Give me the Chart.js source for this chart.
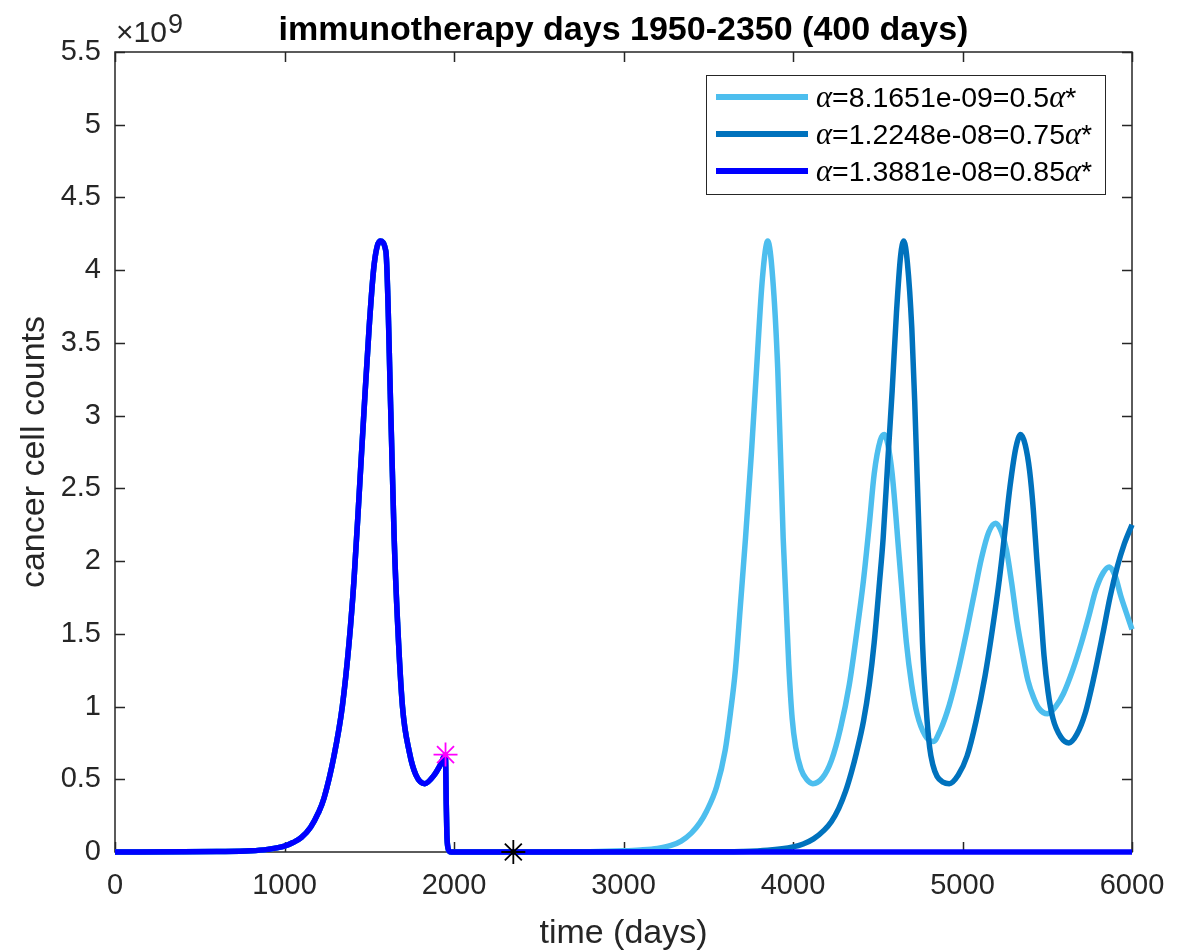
<!DOCTYPE html>
<html>
<head>
<meta charset="utf-8">
<title>immunotherapy days 1950-2350</title>
<script src="https://cdn.jsdelivr.net/npm/chart.js@4.4.0/dist/chart.umd.min.js"></script>
<style>
    html, body { margin: 0; padding: 0; background: #fff; }
    #wrap { width: 1183px; height: 950px; position: relative; }
</style>
</head>
<body>
<div id="wrap"><canvas id="cancerChart"></canvas></div>
<script>
// cancer cells are in units of 1e9 (axis shows x10^9)
// shared history before / during therapy start
const commonDays  = [0, 400, 600, 800, 900, 1000, 1050, 1100, 1154, 1200, 1233, 1292, 1341, 1381, 1410, 1440, 1469, 1499, 1529, 1564, 1598, 1627, 1647, 1667, 1696, 1736, 1775, 1828, 1884, 1920, 1948, 1951, 1954, 1958, 1964, 1972, 1985];
const commonCells = [0, 0.001, 0.003, 0.008, 0.018, 0.04, 0.065, 0.1, 0.17, 0.27, 0.37, 0.66, 1.0, 1.44, 1.87, 2.45, 3.03, 3.6, 4.04, 4.2, 4.13, 3.03, 2.16, 1.58, 1.0, 0.69, 0.53, 0.47, 0.53, 0.6, 0.665, 0.6, 0.35, 0.12, 0.03, 0.005, 0];

// alpha = 0.5 alpha*
const lowDays  = [2400, 2800, 3000, 3100, 3200, 3280, 3340, 3400, 3450, 3490, 3550, 3600, 3630, 3660, 3690, 3720, 3755, 3785, 3820, 3851, 3880, 3910, 3942, 3975, 3995, 4016, 4047, 4080, 4117, 4174, 4227, 4280, 4332, 4375, 4416, 4450, 4479, 4515, 4538, 4560, 4585, 4627, 4669, 4700, 4732, 4780, 4827, 4870, 4922, 4975, 5027, 5070, 5112, 5155, 5196, 5230, 5259, 5290, 5322, 5355, 5386, 5420, 5449, 5502, 5550, 5596, 5650, 5702, 5745, 5786, 5830, 5866, 5900, 5934, 5965, 6000];
const lowCells = [0, 0.002, 0.008, 0.014, 0.025, 0.045, 0.075, 0.13, 0.2, 0.28, 0.45, 0.7, 0.95, 1.25, 1.7, 2.16, 2.75, 3.32, 3.95, 4.2, 3.95, 3.32, 2.16, 1.29, 0.92, 0.72, 0.57, 0.5, 0.47, 0.51, 0.63, 0.85, 1.15, 1.5, 1.87, 2.25, 2.6, 2.83, 2.87, 2.8, 2.6, 2.02, 1.44, 1.15, 0.95, 0.8, 0.76, 0.84, 1.01, 1.25, 1.53, 1.78, 2.02, 2.2, 2.26, 2.2, 2.08, 1.85, 1.58, 1.36, 1.18, 1.06, 0.99, 0.95, 1.0, 1.09, 1.25, 1.44, 1.62, 1.8, 1.92, 1.96, 1.9, 1.76, 1.65, 1.53];

// alpha = 0.75 alpha*
const midDays  = [2400, 3400, 3700, 3850, 4000, 4060, 4121, 4184, 4227, 4270, 4311, 4345, 4374, 4416, 4450, 4479, 4510, 4532, 4560, 4585, 4610, 4635, 4654, 4675, 4701, 4718, 4732, 4750, 4764, 4785, 4806, 4825, 4850, 4885, 4922, 4975, 5027, 5080, 5133, 5175, 5217, 5250, 5280, 5315, 5343, 5370, 5396, 5418, 5438, 5460, 5481, 5505, 5533, 5580, 5628, 5675, 5723, 5775, 5828, 5870, 5913, 5955, 6000];
const midCells = [0, 0.001, 0.004, 0.012, 0.035, 0.055, 0.09, 0.15, 0.21, 0.3, 0.42, 0.55, 0.68, 0.9, 1.15, 1.44, 1.85, 2.16, 2.7, 3.17, 3.7, 4.1, 4.2, 4.05, 3.6, 3.1, 2.6, 1.95, 1.44, 1.0, 0.72, 0.6, 0.52, 0.48, 0.47, 0.53, 0.66, 0.9, 1.21, 1.52, 1.87, 2.2, 2.51, 2.78, 2.87, 2.8, 2.62, 2.35, 2.02, 1.68, 1.35, 1.1, 0.92, 0.79, 0.75, 0.81, 0.95, 1.2, 1.5, 1.75, 1.96, 2.12, 2.25];

// alpha = 0.85 alpha* (cured)
const highDays  = [2400, 6000];
const highCells = [0, 0];

// therapy start / end markers
const markerDays  = [1950, 2350];
const markerCells = [0.67, 0];

const legendLabels = ['α=8.1651e-09=0.5α*', 'α=1.2248e-08=0.75α*', 'α=1.3881e-08=0.85α*'];
const lineColors = ['#4DBEEE', '#0072BD', '#0000FF'];

const xTickValues = [0, 1000, 2000, 3000, 4000, 5000, 6000];
const yTickValues = [0, 0.5, 1, 1.5, 2, 2.5, 3, 3.5, 4, 4.5, 5, 5.5];
const yTickLabels = ['0', '0.5', '1', '1.5', '2', '2.5', '3', '3.5', '4', '4.5', '5', '5.5'];

const titleText = 'immunotherapy days 1950-2350 (400 days)';
const FONT = "'Liberation Sans', Arial, Helvetica, sans-serif";
const AXIS = '#262626';

function toPoints(days, cells) {
    return days.map((d, i) => ({ x: d, y: cells[i] }));
}

function series(days, cells) {
    return toPoints(commonDays.concat(days), commonCells.concat(cells));
}

// draws text where α is set in italic serif
function drawRich(ctx, text, x, y, size) {
    const parts = text.split(/(α)/).filter(p => p.length);
    parts.forEach(p => {
        ctx.font = p === 'α' ? `italic ${size + 2}px 'Liberation Serif', 'DejaVu Serif', serif` : `${size}px ${FONT}`;
        ctx.fillText(p, x, y);
        x += ctx.measureText(p).width;
    });
}

const decor = {
    id: 'decor',
    beforeDatasetsDraw(chart) {
        const { ctx, chartArea: a, scales: { x, y } } = chart;
        ctx.save();
        ctx.strokeStyle = AXIS;
        ctx.lineWidth = 1.5;
        ctx.strokeRect(a.left, a.top, a.right - a.left, a.bottom - a.top);
        ctx.beginPath();
        xTickValues.forEach(v => {
            const px = Math.round(x.getPixelForValue(v)) + 0.5;
            ctx.moveTo(px, a.bottom); ctx.lineTo(px, a.bottom - 10);
            ctx.moveTo(px, a.top); ctx.lineTo(px, a.top + 10);
        });
        yTickValues.forEach(v => {
            const py = Math.round(y.getPixelForValue(v)) + 0.5;
            ctx.moveTo(a.left, py); ctx.lineTo(a.left + 10, py);
            ctx.moveTo(a.right, py); ctx.lineTo(a.right - 10, py);
        });
        ctx.stroke();
        ctx.restore();
    },
    afterDraw(chart) {
        const { ctx, chartArea: a } = chart;
        const cx = (a.left + a.right) / 2;
        ctx.save();
        ctx.fillStyle = '#000';
        ctx.textAlign = 'center';
        ctx.textBaseline = 'alphabetic';
        ctx.font = `bold 34px ${FONT}`;
        ctx.fillText(titleText, cx, a.top - 12);

        // exponent label
        ctx.fillStyle = AXIS;
        ctx.textAlign = 'left';
        ctx.font = `30px ${FONT}`;
        ctx.fillText('×10', a.left + 1, a.top - 10);
        const w = ctx.measureText('×10').width;
        ctx.font = `27px ${FONT}`;
        ctx.fillText('9', a.left + 2 + w, a.top - 19);

        // axis titles
        ctx.textAlign = 'center';
        ctx.font = `34px ${FONT}`;
        ctx.fillText('time (days)', cx, a.bottom + 91);
        ctx.save();
        ctx.translate(44, (a.top + a.bottom) / 2);
        ctx.rotate(-Math.PI / 2);
        ctx.fillText('cancer cell counts', 0, 0);
        ctx.restore();

        // legend
        const lx = a.right - 426, ly = a.top + 23, lw = 399, lh = 119;
        ctx.fillStyle = '#fff';
        ctx.fillRect(lx, ly, lw, lh);
        ctx.strokeStyle = AXIS;
        ctx.lineWidth = 1;
        ctx.strokeRect(lx + 0.5, ly + 0.5, lw, lh);
        ctx.textAlign = 'left';
        ctx.textBaseline = 'middle';
        legendLabels.forEach((lab, i) => {
            const yy = ly + 22 + i * 37;
            ctx.strokeStyle = lineColors[i];
            ctx.lineWidth = 6;
            ctx.beginPath();
            ctx.moveTo(lx + 10, yy); ctx.lineTo(lx + 102, yy);
            ctx.stroke();
            ctx.fillStyle = '#000';
            drawRich(ctx, lab, lx + 110, yy + 2, 28.5);
        });
        ctx.restore();
    }
};

const lineBase = {
    borderWidth: 5.5,
    pointRadius: 0,
    fill: false,
    cubicInterpolationMode: 'monotone',
    clip: false
};

const ctx = document.getElementById('cancerChart').getContext('2d');
const cancerChart = new Chart(ctx, {
    type: 'line',
    data: {
        datasets: [
            Object.assign({ label: legendLabels[0], data: series(lowDays, lowCells), borderColor: lineColors[0], order: 4 }, lineBase),
            Object.assign({ label: legendLabels[1], data: series(midDays, midCells), borderColor: lineColors[1], order: 3 }, lineBase),
            Object.assign({ label: legendLabels[2], data: series(highDays, highCells), borderColor: lineColors[2], order: 2 }, lineBase),
            {
                type: 'scatter',
                label: 'start',
                data: toPoints(markerDays.slice(0, 1), markerCells.slice(0, 1)),
                pointStyle: 'star', pointRadius: 12, borderColor: '#FF00FF', borderWidth: 1.8,
                clip: false, order: 1
            },
            {
                type: 'scatter',
                label: 'end',
                data: toPoints(markerDays.slice(1), markerCells.slice(1)),
                pointStyle: 'star', pointRadius: 12, borderColor: '#000000', borderWidth: 1.8,
                clip: false, order: 0
            }
        ]
    },
    options: {
        responsive: true,
        maintainAspectRatio: false,
        animation: false,
        events: [],
        layout: { padding: { top: 52, right: 51, left: 0, bottom: 0 } },
        plugins: { legend: { display: false }, title: { display: false }, tooltip: { enabled: false } },
        scales: {
            x: {
                type: 'linear',
                min: 0, max: 6000,
                grid: { display: false, drawTicks: false },
                border: { display: false },
                afterFit: s => { s.height = 98; },
                afterBuildTicks: s => { s.ticks = xTickValues.map(v => ({ value: v })); },
                ticks: {
                    color: AXIS, padding: 17,
                    font: { family: FONT, size: 29 },
                    callback: v => String(v)
                }
            },
            y: {
                type: 'linear',
                min: 0, max: 5.5,
                grid: { display: false, drawTicks: false },
                border: { display: false },
                afterFit: s => { s.width = 115; },
                afterBuildTicks: s => { s.ticks = yTickValues.map(v => ({ value: v })); },
                ticks: {
                    color: AXIS, padding: 14,
                    font: { family: FONT, size: 29 },
                    callback: (v, i) => yTickLabels[i]
                }
            }
        }
    },
    plugins: [decor]
});
</script>
</body>
</html>
